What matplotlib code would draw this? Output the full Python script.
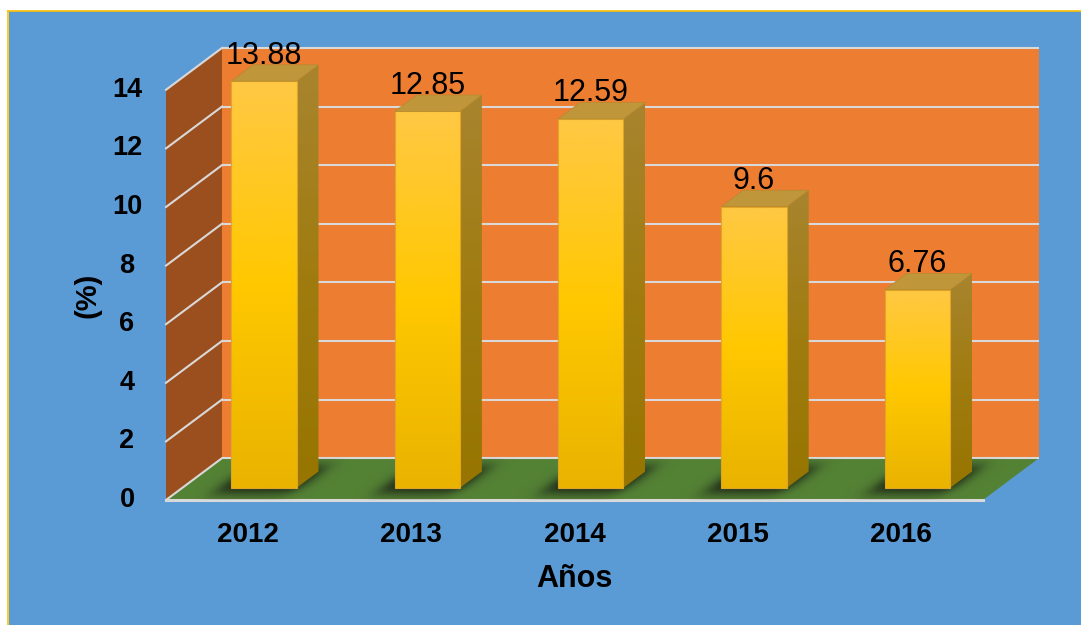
import numpy as np
import matplotlib.pyplot as plt
from matplotlib.patches import Polygon, Rectangle
from matplotlib.lines import Line2D
from matplotlib.colors import LinearSegmentedColormap

plt.rcParams['font.family'] = ['Liberation Sans', 'DejaVu Sans']

anios = ['2012', '2013', '2014', '2015', '2016']
tasa = [13.88, 12.85, 12.59, 9.6, 6.76]
y_ticks = [0, 2, 4, 6, 8, 10, 12, 14]

# 3d box: depth offset in data units, bar width and depth slot
DX, DY = 0.343, 1.43
BAR_W = 0.4
Z0, Z1 = 0.29, 0.68
YMAX = 14
X_LO, X_HI = -0.5, len(anios) - 0.5

GRID = '#D9D9D9'
front_cmap = LinearSegmentedColormap.from_list('front', ['#E9B300', '#FFC800', '#FFC844'])
side_cmap = LinearSegmentedColormap.from_list('side', ['#977500', '#A07C10', '#A8842F'])


def proj(x, y, z):
    return x + z * DX, y + z * DY


def gradient(ax, cmap, poly, zorder):
    # vertical gradient clipped to a face polygon
    pts = np.array(poly.get_xy())
    g = np.linspace(0, 1, 256).reshape(-1, 1)
    im = ax.imshow(g, cmap=cmap, extent=(pts[:, 0].min(), pts[:, 0].max(), pts[:, 1].min(), pts[:, 1].max()),
                   origin='lower', aspect='auto', interpolation='bilinear', zorder=zorder)
    im.set_clip_path(poly)


def soft(t, a, b, s):
    return 1 / (1 + np.exp(-(t - a) / s)) / (1 + np.exp((t - b) / s))


fig = plt.figure(figsize=(10.81, 6.25), dpi=100)
fig.add_artist(Rectangle((9 / 1081, 0), 1, 614 / 625, transform=fig.transFigure,
                         facecolor='#5B9BD5', edgecolor='none', zorder=0))
fig.add_artist(Line2D([8 / 1081, 1], [614 / 625, 614 / 625], transform=fig.transFigure, color='#FFC000', lw=1.2))
fig.add_artist(Line2D([8 / 1081, 8 / 1081], [0, 614 / 625], transform=fig.transFigure, color='#FFC000', lw=1.2))

ax = fig.add_axes([0, 0, 1, 1])
ax.axis('off')
ax.patch.set_visible(False)

# walls and floor
side = Polygon([proj(X_LO, 0, 0), proj(X_LO, 0, 1), proj(X_LO, YMAX, 1), proj(X_LO, YMAX, 0)],
               facecolor='#9B4F1F', edgecolor='none', zorder=1)
back = Polygon([proj(X_LO, 0, 1), proj(X_HI, 0, 1), proj(X_HI, YMAX, 1), proj(X_LO, YMAX, 1)],
               facecolor='#ED7D31', edgecolor='none', zorder=1)
floor = Polygon([proj(X_LO, 0, 0), proj(X_HI, 0, 0), proj(X_HI, 0, 1), proj(X_LO, 0, 1)],
                facecolor='#548235', edgecolor='none', zorder=1.5)
for p in (side, back, floor):
    ax.add_patch(p)

for t in y_ticks:
    (x1, y1), (x2, y2) = proj(X_LO, t, 1), proj(X_HI, t, 1)
    ax.plot([x1, x2], [y1, y2], color=GRID, lw=1.5, zorder=2, solid_capstyle='butt')
    (x1, y1), (x2, y2) = proj(X_LO, t, 0), proj(X_LO, t, 1)
    ax.plot([x1, x2], [y1, y2], color=GRID, lw=1.5, zorder=2)
ax.plot([X_LO, X_HI], [0, 0], color=GRID, lw=2.2, zorder=2.5)

for i, v in enumerate(tasa):
    # soft shadow around the foot of the bar
    xa, xb = i - 0.5, i + 0.5 + DX
    ya, yb = -0.3, DY + 0.3
    gx, gy = np.meshgrid(np.linspace(xa, xb, 240), np.linspace(ya, yb, 120))
    z = gy / DY
    x0 = gx - z * DX
    a = soft(x0, i - BAR_W / 2 - 0.07, i + BAR_W / 2 + 0.02, 0.03) * soft(z, Z0 - 0.12, Z1 + 0.12, 0.08)
    rgba = np.zeros(gx.shape + (4,))
    rgba[..., :3] = 0.06
    rgba[..., 3] = 0.85 * a
    im = ax.imshow(rgba, extent=(xa, xb, ya, yb), origin='lower', aspect='auto',
                   interpolation='bilinear', zorder=3)
    im.set_clip_path(floor)

    xl, xr = i - BAR_W / 2, i + BAR_W / 2
    front = Polygon([proj(xl, 0, Z0), proj(xr, 0, Z0), proj(xr, v, Z0), proj(xl, v, Z0)],
                    facecolor='none', edgecolor='#E0A526', lw=0.8, zorder=5)
    sidef = Polygon([proj(xr, 0, Z0), proj(xr, 0, Z1), proj(xr, v, Z1), proj(xr, v, Z0)],
                    facecolor='none', edgecolor='none', zorder=5)
    top = Polygon([proj(xl, v, Z0), proj(xr, v, Z0), proj(xr, v, Z1), proj(xl, v, Z1)],
                  facecolor='#C0963A', edgecolor='#B58A2E', lw=0.5, zorder=5)
    for p in (front, sidef, top):
        ax.add_patch(p)
    gradient(ax, front_cmap, front, 4)
    gradient(ax, side_cmap, sidef, 4)

    lx, ly = proj(i, v, Z0)
    ax.text(lx, ly + 0.6, str(v), ha='center', va='baseline', fontsize=22, color='black', zorder=10)

    ax.text(i, -1.19, anios[i], ha='center', va='center', fontsize=20, fontweight='bold', zorder=10)

for t in y_ticks:
    ax.text(-0.739, t, str(t), ha='center', va='center', fontsize=19.5, fontweight='bold', zorder=10)

ax.text(-0.983, 7.0, '(%)', ha='center', va='center', rotation=90, fontsize=21, fontweight='bold')
ax.text(2.0, -2.70, 'Años', ha='center', va='center', fontsize=22, fontweight='bold')

ax.set_xlim(-1.516, 5.100)
ax.set_ylim(-4.266, 17.065)

fig.savefig('out.png', dpi=100)
